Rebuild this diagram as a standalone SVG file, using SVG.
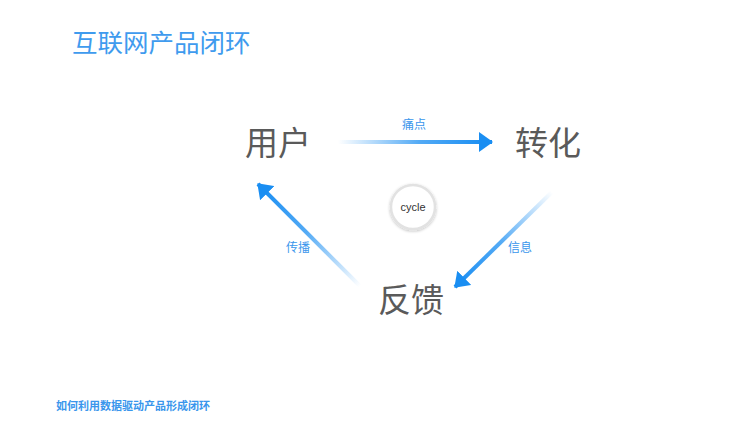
<svg xmlns="http://www.w3.org/2000/svg" width="736" height="436" viewBox="0 0 736 436">
<style>
.t{font-family:"Noto Sans CJK SC","Noto Sans",sans-serif}
.title{font-size:25.5px;fill:#3f9bee}
.node{font-size:33px;fill:#5a5a5a}
.lbl{font-size:12px;fill:#3a96ec;text-anchor:middle}
.foot{font-size:11px;fill:#3a96ec;font-weight:bold}
.sh{stroke-width:4;fill:none}
</style>
<defs>
<marker id="ah" viewBox="0 0 14 20" refX="13" refY="10" markerWidth="14" markerHeight="20" markerUnits="userSpaceOnUse" orient="auto">
<path d="M0,0 L14,10 L0,20 z" fill="#1a8ef2"/>
</marker>
<linearGradient id="g1" gradientUnits="userSpaceOnUse" x1="338" y1="142" x2="485" y2="142">
<stop offset="0" stop-color="#1a8ef2" stop-opacity="0"/>
<stop offset="0.55" stop-color="#1a8ef2" stop-opacity="0.75"/>
<stop offset="1" stop-color="#1a8ef2" stop-opacity="1"/>
</linearGradient>
<linearGradient id="g2" gradientUnits="userSpaceOnUse" x1="552" y1="192" x2="458" y2="284">
<stop offset="0" stop-color="#1a8ef2" stop-opacity="0"/>
<stop offset="0.55" stop-color="#1a8ef2" stop-opacity="0.75"/>
<stop offset="1" stop-color="#1a8ef2" stop-opacity="1"/>
</linearGradient>
<linearGradient id="g3" gradientUnits="userSpaceOnUse" x1="360" y1="286" x2="262" y2="188">
<stop offset="0" stop-color="#1a8ef2" stop-opacity="0"/>
<stop offset="0.55" stop-color="#1a8ef2" stop-opacity="0.75"/>
<stop offset="1" stop-color="#1a8ef2" stop-opacity="1"/>
</linearGradient>
<filter id="shd" x="-30%" y="-30%" width="160%" height="160%">
<feGaussianBlur in="SourceAlpha" stdDeviation="1.5"/>
<feOffset dx="0" dy="1" result="b"/>
<feComponentTransfer><feFuncA type="linear" slope="0.25"/></feComponentTransfer>
<feMerge><feMergeNode/><feMergeNode in="SourceGraphic"/></feMerge>
</filter>
</defs>
<rect width="736" height="436" fill="#ffffff"/>
<text class="t title" x="72" y="52">互联网产品闭环</text>
<g id="connectors">
<line class="sh" x1="338" y1="142" x2="492" y2="142" stroke="url(#g1)" marker-end="url(#ah)"/>
<line class="sh" x1="552" y1="192" x2="455" y2="287" stroke="url(#g2)" marker-end="url(#ah)"/>
<line class="sh" x1="360" y1="286" x2="258" y2="184" stroke="url(#g3)" marker-end="url(#ah)"/>
<text class="t lbl" x="414" y="129">痛点</text>
<text class="t lbl" x="520" y="252">信息</text>
<text class="t lbl" x="298" y="252">传播</text>
</g>
<g id="node-user"><text class="t node" x="245" y="155">用户</text></g>
<g id="node-convert"><text class="t node" x="515" y="155">转化</text></g>
<g id="node-feedback"><text class="t node" x="378" y="312">反馈</text></g>
<g id="node-cycle">
<circle cx="413" cy="207" r="22" fill="#ffffff" stroke="#e2e2e2" stroke-width="2.5" filter="url(#shd)"/>
<text x="413" y="211" font-family="Liberation Sans,Arial,sans-serif" font-size="11" fill="#333" text-anchor="middle">cycle</text>
</g>
<text class="t foot" x="56" y="410">如何利用数据驱动产品形成闭环</text>
</svg>
